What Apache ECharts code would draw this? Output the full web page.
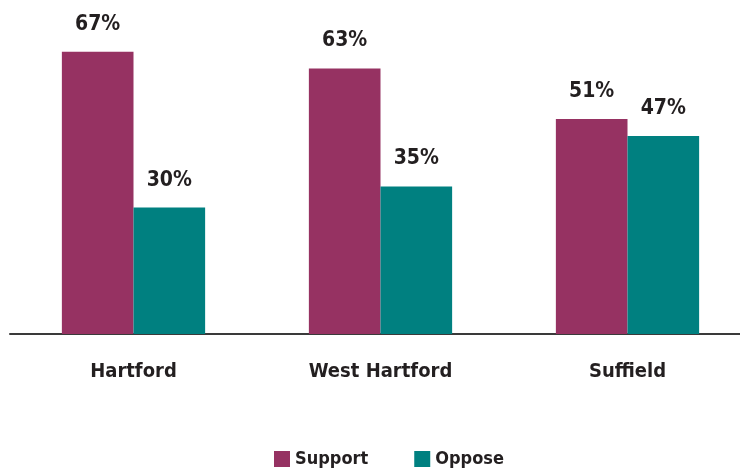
<!DOCTYPE html>
<html><head><meta charset="utf-8">
<script src="https://cdn.jsdelivr.net/npm/echarts@6/dist/echarts.min.js"></script>
<style>html,body{margin:0;padding:0;background:#fff}#c{width:740px;height:474px}</style>
</head><body><div id="c"></div>
<script>
const categories = ['Hartford', 'West Hartford', 'Suffield'];
const support = [67, 63, 51];
const oppose = [30, 35, 47];
const seriesNames = ['Support', 'Oppose'];

const FONT = '"DejaVu Sans Condensed", "Liberation Sans Narrow", sans-serif';
const chart = echarts.init(document.getElementById('c'), null, {renderer: 'canvas'});
const labelCfg = {
  show: true, position: 'top', distance: 17,
  formatter: p => p.value + '%',
  color: '#231f20', fontFamily: FONT, fontSize: 21, fontWeight: 'bold'
};
chart.setOption({
  animation: false,
  backgroundColor: '#fff',
  grid: {left: 10, width: 741, top: 39, bottom: 140, outerBoundsMode: 'none', containLabel: false},
  legend: {
    data: seriesNames, bottom: 1, left: 269, itemGap: 46,
    itemWidth: 16, itemHeight: 16, icon: 'rect',
    textStyle: {fontFamily: FONT, fontSize: 18, fontWeight: 'bold', color: '#231f20'}
  },
  xAxis: {
    type: 'category', data: categories,
    axisLine: {lineStyle: {color: '#3a3a3a', width: 2}},
    axisTick: {show: false},
    axisLabel: {fontFamily: FONT, fontSize: 20, fontWeight: 'bold', color: '#231f20', margin: 28}
  },
  yAxis: {type: 'value', min: 0, max: 70, show: false, splitLine: {show: false}},
  series: [
    {name: seriesNames[0], type: 'bar', data: support, barGap: '0%', barCategoryGap: '42%',
     itemStyle: {color: '#963262'}, label: labelCfg},
    {name: seriesNames[1], type: 'bar', data: oppose,
     itemStyle: {color: '#008080'}, label: labelCfg}
  ]
});
</script></body></html>
